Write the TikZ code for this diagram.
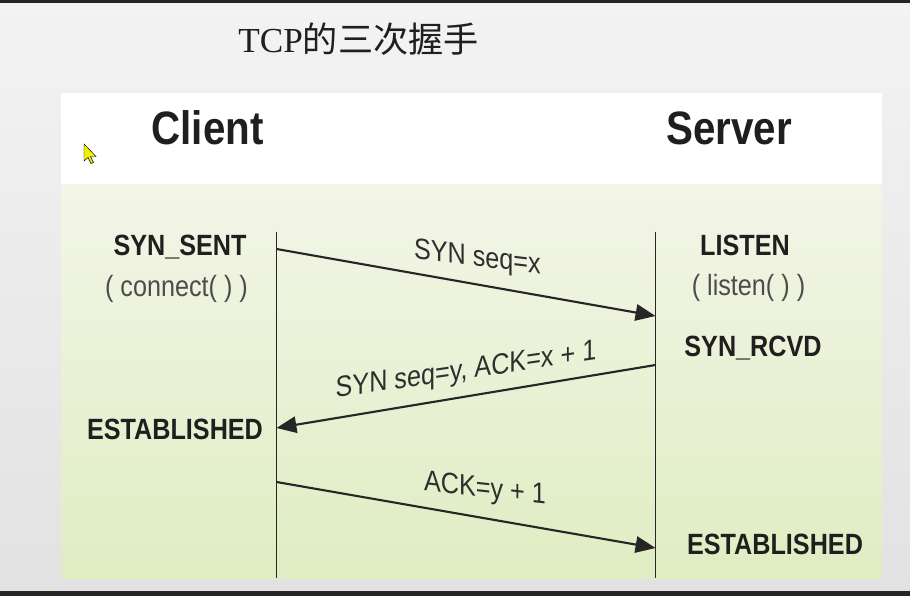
\documentclass[tikz,border=0pt]{standalone}
\usepackage{fontspec}
\usepackage{tikz}
\usetikzlibrary{arrows.meta}
\usepackage{xcolor}
\newfontfamily\diagfont[FakeStretch=0.86]{Liberation Sans}
\newfontfamily\cjkfont{Noto Sans CJK SC}
\newfontfamily\titlelatin{Liberation Serif}
\definecolor{slidetop}{HTML}{F3F3F3}
\definecolor{slidebot}{HTML}{E2E2E2}
\definecolor{greentop}{HTML}{F3F5E8}
\definecolor{greenbot}{HTML}{DFEDC2}
\definecolor{inkline}{HTML}{262626}
\definecolor{cursorfill}{HTML}{F5F000}

\begin{document}
\begin{tikzpicture}[x=0.03cm,y=0.03cm,thick]
  \tikzstyle{every node}=[text=black!88,inner sep=0pt]
  \tikzstyle{head}=[font=\diagfont\bfseries\fontsize{40}{40}\selectfont,anchor=base]
  \tikzstyle{state}=[font=\diagfont\bfseries\fontsize{25}{25}\selectfont,anchor=base]
  \tikzstyle{call}=[font=\diagfont\fontsize{25}{25}\selectfont,anchor=base,text=black!70]
  \tikzstyle{msg label}=[font=\diagfont\fontsize{25}{25}\selectfont,text=black!82]
  \tikzstyle{lifeline}=[draw=inkline,line width=1.6pt]
  \tikzstyle{msg}=[draw=inkline,line width=1.8pt,-{Triangle[length=17pt,width=14pt]}]

  \useasboundingbox (0,0) rectangle (910,-596);
  % slide and panel
  \fill[top color=slidetop,bottom color=slidebot] (0,0) rectangle (910,-596);
  \fill[black!85] (0,0) rectangle (910,-3);
  \fill[black!85] (0,-591) rectangle (910,-596);
  \fill[white] (61,-93) rectangle (882,-185);
  \fill[top color=greentop,bottom color=greenbot] (61,-185) rectangle (882,-578);

  \node (title) at (358.5,-39) {\fontsize{30}{30}\selectfont{\titlelatin TCP}{\cjkfont 的三次握手}};

  \node [head]  (client)  at (207.5,-145) {Client};
  \node [head]  (server)  at (729,-145)   {Server};

  \node [state] (sent)    at (180,-256)   {SYN\_SENT};
  \node [call]  (connect) at (176.5,-297) {( connect( ) )};
  \node [state] (estc)    at (175,-440)   {ESTABLISHED};
  \node [state] (listen)  at (745,-256)   {LISTEN};
  \node [call]  (listenc) at (748.5,-296) {( listen( ) )};
  \node [state] (rcvd)    at (753,-357)   {SYN\_RCVD};
  \node [state] (ests)    at (775,-554)   {ESTABLISHED};

  % lifelines
  \coordinate (ctop) at (276.5,-232);
  \coordinate (cbot) at (276.5,-578);
  \coordinate (stop) at (655.5,-232);
  \coordinate (sbot) at (655.5,-578);
  \draw [lifeline] (ctop) -- (cbot);
  \draw [lifeline] (stop) -- (sbot);

  % messages
  \coordinate (c1) at (276.5,-249);
  \coordinate (s1) at (655.5,-316);
  \coordinate (s2) at (655.5,-365);
  \coordinate (c2) at (276.5,-428);
  \coordinate (c3) at (276.5,-482);
  \coordinate (s3) at (655.5,-548);
  \draw [msg] (c1) -- node [msg label, pos=0.53, yshift=21.8pt, yslant=-0.12] {SYN seq=x} (s1);
  \draw [msg] (s2) -- node [msg label, pos=0.5, yshift=21.3pt, yslant=0.145] {SYN seq=y, ACK=x + 1} (c2);
  \draw [msg] (c3) -- node [msg label, pos=0.55, yshift=23.9pt, yslant=-0.11] {ACK=y + 1} (s3);

  % mouse pointer
  \filldraw [fill=cursorfill,draw=black,line width=0.4pt]
    (84,-144) -- (84,-161) -- (88,-157.5) -- (91,-163.5) -- (93.5,-162.5) -- (90.5,-156.5) -- (96,-156.5) -- cycle;
\end{tikzpicture}
\end{document}
